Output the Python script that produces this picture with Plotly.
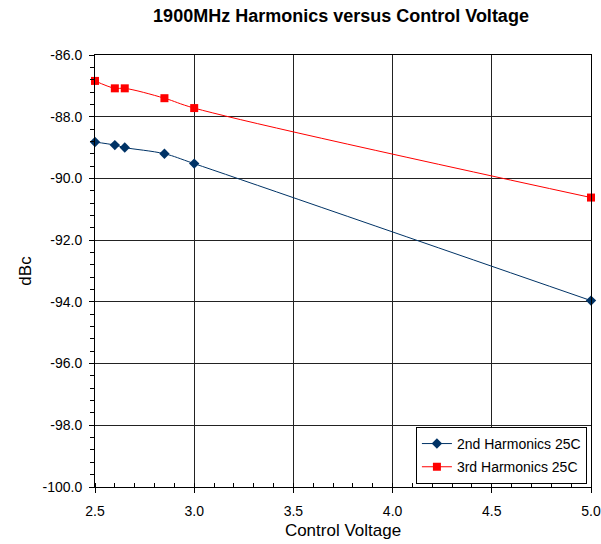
import plotly.graph_objects as go

control_voltage = [2.5, 2.6, 2.65, 2.85, 3.0, 5.0]
second_harm = [-88.82, -88.92, -89.0, -89.2, -89.52, -93.96]
third_harm = [-86.84, -87.08, -87.08, -87.4, -87.72, -90.62]
x_ticks = [2.5, 3.0, 3.5, 4.0, 4.5, 5.0]
y_ticks = [-100, -98, -96, -94, -92, -90, -88, -86]

font = "Liberation Sans"
W, H = 601, 544

fig = go.Figure()
fig.add_trace(go.Scatter(
    x=control_voltage, y=second_harm, name="2nd Harmonics 25C", legendgroup="a",
    mode="lines+markers", line=dict(color="#003366", width=1, shape="spline", smoothing=1.0),
    marker=dict(symbol="diamond", size=8, color="#003366"),
    cliponaxis=False))
fig.add_trace(go.Scatter(
    x=control_voltage, y=third_harm, name="3rd Harmonics 25C", legendgroup="b",
    mode="lines+markers", line=dict(color="#FF0000", width=1, shape="spline", smoothing=1.0),
    marker=dict(symbol="square", size=8, color="#FF0000"),
    cliponaxis=False))

fig.update_layout(
    width=W, height=H,
    margin=dict(l=95, r=10, t=55, b=57, autoexpand=False),
    paper_bgcolor="white", plot_bgcolor="white",
    font=dict(family=font, size=14, color="black"),
    title=dict(text="<b>1900MHz Harmonics versus Control Voltage</b>",
               x=341/W, xanchor="center", y=1 - 16/H, yanchor="middle",
               font=dict(size=18, family=font), automargin=False),
    showlegend=True,
    legend=dict(x=0.647, y=0.139, xanchor="left", yanchor="top",
                bordercolor="black", borderwidth=1, bgcolor="white",
                font=dict(size=14), traceorder="grouped", tracegroupgap=2),
)
fig.update_xaxes(
    range=[2.5, 5.0], tickvals=x_ticks, ticktext=[f"{v:.1f}" for v in x_ticks],
    showgrid=True, gridcolor="#222222", gridwidth=1, automargin=False,
    showline=True, linecolor="black", linewidth=1, mirror=True,
    ticks="outside", ticklen=5, tickcolor="black", zeroline=False,
    ticklabelstandoff=6,
    minor=dict(dtick=0.1, ticks="inside", ticklen=4, tickcolor="black", showgrid=False),
    title=dict(text="Control Voltage", font=dict(size=17), standoff=6),
)
fig.update_yaxes(
    range=[-100, -86], tickvals=y_ticks, ticktext=[f"{v:.1f}" for v in y_ticks],
    showgrid=True, gridcolor="#222222", gridwidth=1, automargin=False,
    showline=True, linecolor="black", linewidth=1, mirror=True,
    ticks="outside", ticklen=5, tickcolor="black", zeroline=False,
    ticklabelstandoff=4,
    minor=dict(dtick=0.4, ticks="outside", ticklen=4, tickcolor="black", showgrid=False),
    title=dict(text="dBc", font=dict(size=17), standoff=6),
)

fig.write_html("out.html", config={"displayModeBar": False},
               post_script="document.body.style.margin='0';document.body.style.overflow='hidden';")
